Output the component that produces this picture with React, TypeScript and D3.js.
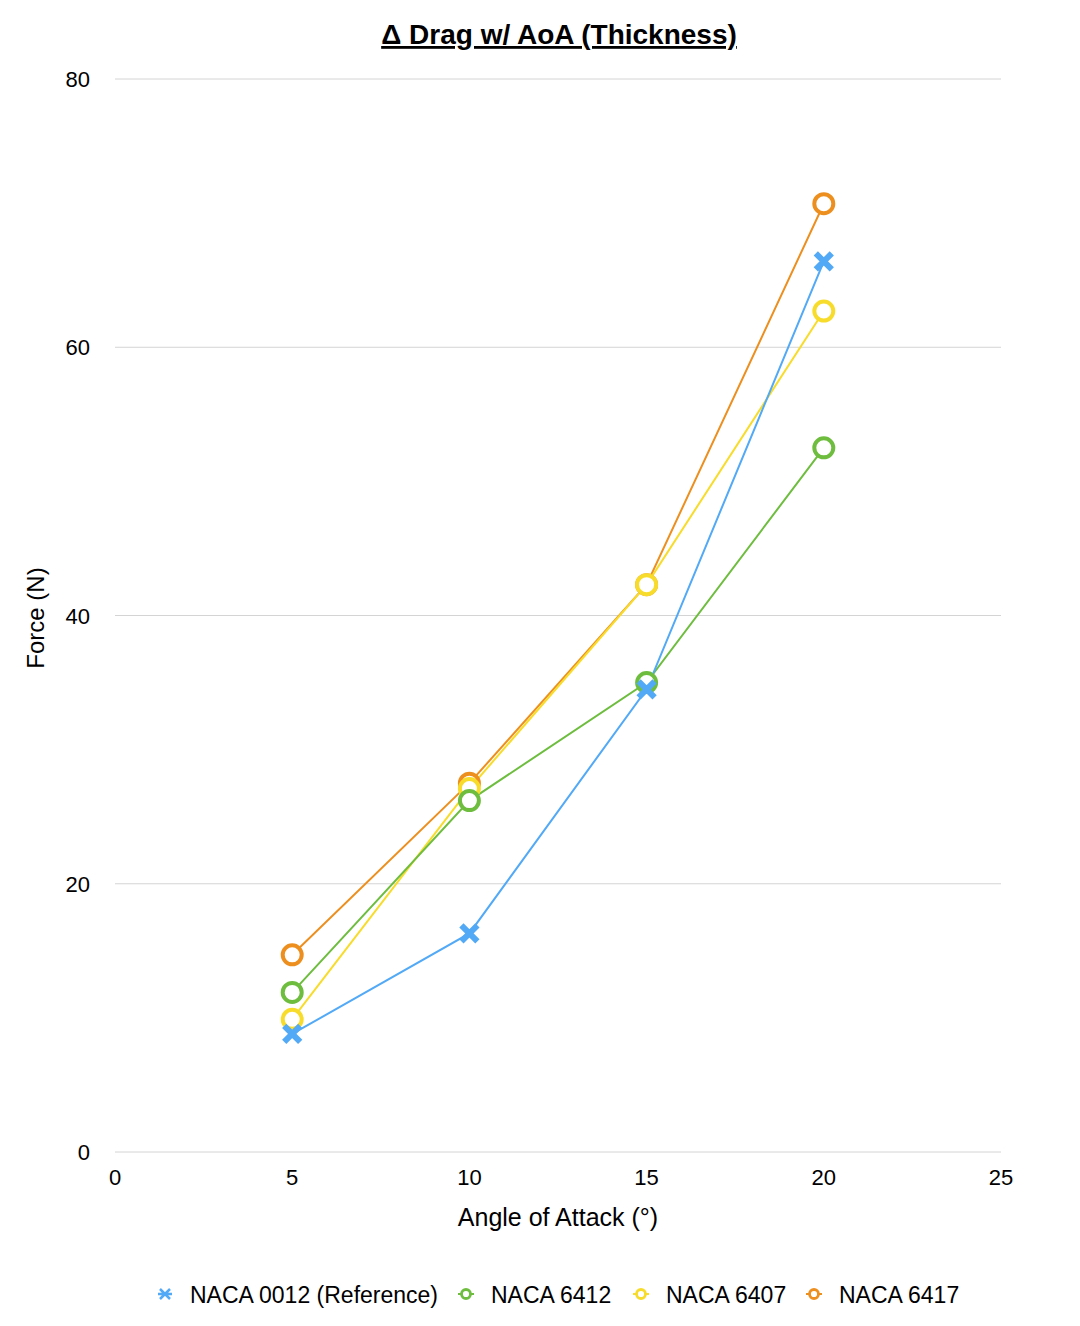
import React, { useEffect, useRef } from 'react'
import * as d3 from 'd3'

const angles = [5, 10, 15, 20]
const naca0012 = [8.8, 16.3, 34.5, 66.4]
const naca6412 = [11.9, 26.2, 35.0, 52.5]
const naca6407 = [9.9, 27.1, 42.3, 62.7]
const naca6417 = [14.7, 27.5, 42.3, 70.7]
const xTicks = [0, 5, 10, 15, 20, 25]
const yTicks = [0, 20, 40, 60, 80]

const series = [
    { name: 'NACA 0012 (Reference)', values: naca0012, color: '#52a9f6', marker: 'cross' },
    { name: 'NACA 6412', values: naca6412, color: '#6ebd3f', marker: 'circle' },
    { name: 'NACA 6407', values: naca6407, color: '#f8dc2b', marker: 'circle' },
    { name: 'NACA 6417', values: naca6417, color: '#ed8f1f', marker: 'circle' },
]

export default function App() {
    const ref = useRef<SVGSVGElement>(null)

    let width = 1080, height = 1326
    let left = 115, right = 1001, top = 79, bottom = 1152
    let font = '"Liberation Sans", Arial, Helvetica, sans-serif'

    useEffect(() => {
        const svg = d3.select(ref.current)
        svg.selectAll('*').remove()

        const x = d3.scaleLinear().domain([0, 25]).range([left, right])
        const y = d3.scaleLinear().domain([0, 80]).range([bottom, top])

        // gridlines
        svg.append('g')
            .selectAll('line')
            .data(yTicks)
            .enter()
            .append('line')
            .attr('x1', left)
            .attr('x2', right)
            .attr('y1', d => y(d))
            .attr('y2', d => y(d))
            .attr('stroke', '#d4d4d4')
            .attr('stroke-width', 1)

        svg.append('g')
            .selectAll('text')
            .data(yTicks)
            .enter()
            .append('text')
            .attr('x', 90)
            .attr('y', d => y(d) + 8)
            .attr('text-anchor', 'end')
            .style('font-size', '22px')
            .style('font-family', font)
            .text(d => d)

        svg.append('g')
            .selectAll('text')
            .data(xTicks)
            .enter()
            .append('text')
            .attr('x', d => x(d))
            .attr('y', bottom + 33)
            .attr('text-anchor', 'middle')
            .style('font-size', '22px')
            .style('font-family', font)
            .text(d => d)

        // titles
        svg.append('text')
            .attr('x', 559)
            .attr('y', 44)
            .attr('text-anchor', 'middle')
            .style('font-size', '28px')
            .style('font-weight', 'bold')
            .style('text-decoration', 'underline')
            .style('font-family', font)
            .text('\u0394 Drag w/ AoA (Thickness)')

        svg.append('text')
            .attr('x', 558)
            .attr('y', 1226)
            .attr('text-anchor', 'middle')
            .style('font-size', '25px')
            .style('font-family', font)
            .text('Angle of Attack (\u00b0)')

        svg.append('text')
            .attr('transform', 'translate(44, 618) rotate(-90)')
            .attr('text-anchor', 'middle')
            .style('font-size', '24px')
            .style('font-family', font)
            .text('Force (N)')

        const line = d3.line<number>()
            .x((d, i) => x(angles[i]))
            .y(d => y(d))

        const drawOrder = [3, 2, 1, 0]
        drawOrder.forEach(k => {
            const s = series[k]
            svg.append('path')
                .attr('d', line(s.values))
                .attr('fill', 'none')
                .attr('stroke', s.color)
                .attr('stroke-width', 2)
        })

        function drawMarker(g: any, cx: number, cy: number, s: any, size: number) {
            if (s.marker == 'cross') {
                let a = size
                g.append('path')
                    .attr('d', `M${cx - a},${cy - a}L${cx + a},${cy + a}M${cx - a},${cy + a}L${cx + a},${cy - a}`)
                    .attr('stroke', s.color)
                    .attr('stroke-width', 6)
                    .attr('fill', 'none')
            } else {
                g.append('circle')
                    .attr('cx', cx)
                    .attr('cy', cy)
                    .attr('r', size)
                    .attr('fill', 'white')
                    .attr('stroke', s.color)
                    .attr('stroke-width', 4)
            }
        }

        drawOrder.forEach(k => {
            const s = series[k]
            const g = svg.append('g')
            s.values.forEach((v, i) => drawMarker(g, x(angles[i]), y(v), s, s.marker == 'cross' ? 8 : 9.5))
        })

        // legend
        const legendX = [165, 466, 641, 814]
        series.forEach((s, i) => {
            const g = svg.append('g')
            if (s.marker == 'cross') {
                let cx = legendX[i], cy = 1294, a = 5
                g.append('path')
                    .attr('d', `M${cx - a},${cy - a}L${cx + a},${cy + a}M${cx - a},${cy + a}L${cx + a},${cy - a}M${cx - a - 2},${cy}L${cx + a + 2},${cy}`)
                    .attr('stroke', s.color)
                    .attr('stroke-width', 2.5)
            } else {
                g.append('line')
                    .attr('x1', legendX[i] - 8)
                    .attr('x2', legendX[i] + 8)
                    .attr('y1', 1294)
                    .attr('y2', 1294)
                    .attr('stroke', s.color)
                    .attr('stroke-width', 2)
                g.append('circle')
                    .attr('cx', legendX[i])
                    .attr('cy', 1294)
                    .attr('r', 4.5)
                    .attr('fill', 'white')
                    .attr('stroke', s.color)
                    .attr('stroke-width', 2.8)
            }
            g.append('text')
                .attr('x', legendX[i] + 25)
                .attr('y', 1303)
                .style('font-size', '23px')
                .style('font-family', font)
                .text(s.name)
        })
    }, [])

    return (
        <svg ref={ref} width={width} height={height}
            style={{ position: 'absolute', left: 0, top: 0, background: 'white' }} />
    )
}
